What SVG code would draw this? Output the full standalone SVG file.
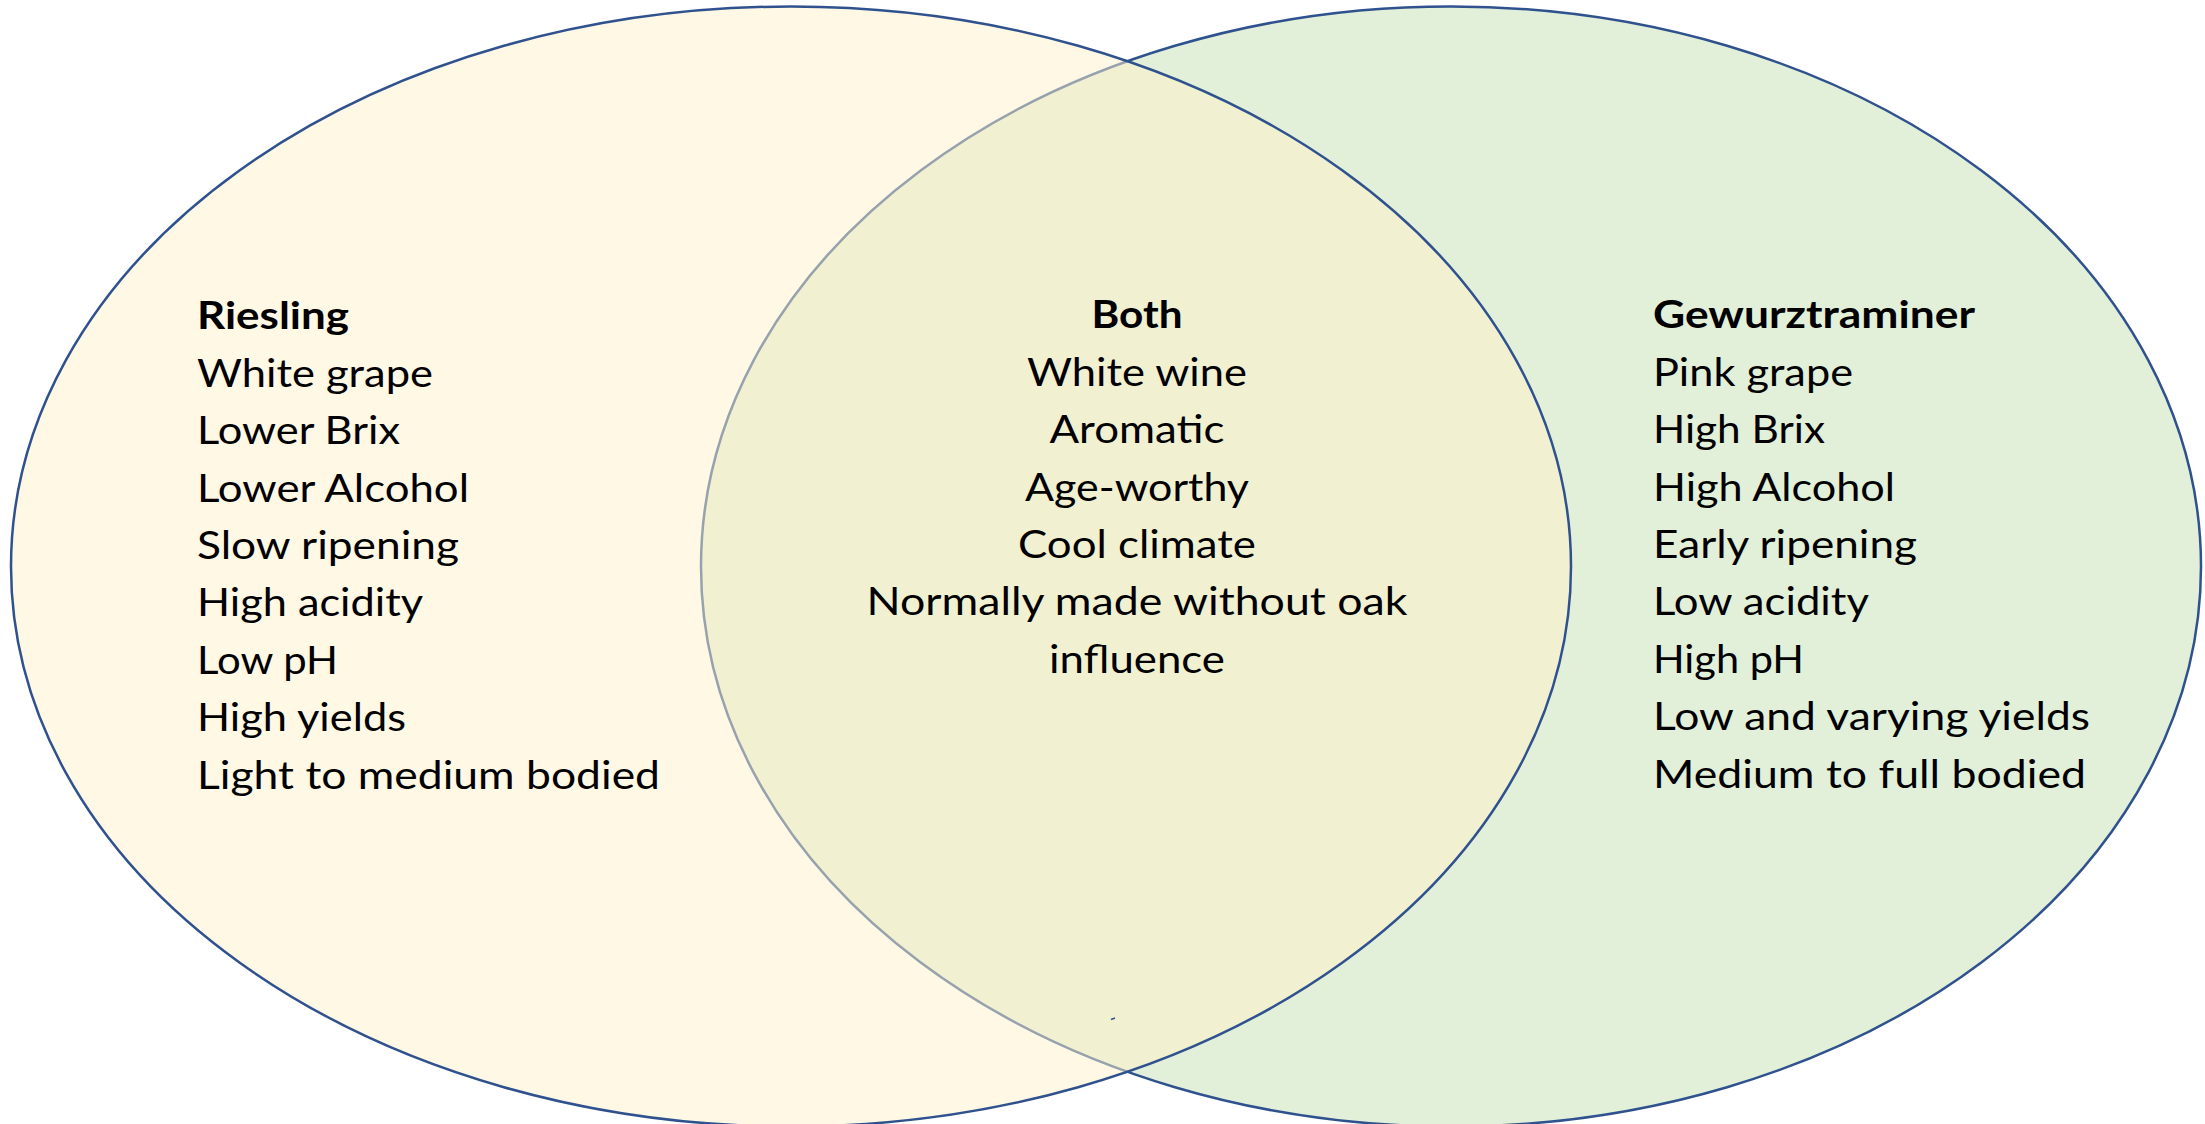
<svg xmlns="http://www.w3.org/2000/svg" width="2205" height="1124" viewBox="0 0 2205 1124">
<style>
.t{font-family:Lato,"Open Sans","Liberation Sans",sans-serif;font-size:38px;fill:#000}
.b{font-weight:bold}
.c{text-anchor:middle}
.e{stroke:#2F528F;stroke-width:2.5}
</style>
<rect width="2205" height="1124" fill="#FFFFFF"/>
<g id="gewurztraminer-circle">
<ellipse class="e" cx="1451" cy="566.5" rx="750" ry="560" fill="#E2F0D9"/>
</g>
<g id="riesling-circle">
<ellipse class="e" cx="791" cy="566.5" rx="780" ry="560" fill="#FFF2CC" fill-opacity="0.5"/>
</g>
<g id="connectors"></g>
<path d="M1111 1019.5 L1115 1018" stroke="#2F528F" stroke-width="1.5" fill="none"/>
<g id="riesling">
<text class="t b" x="197" y="329" textLength="152" lengthAdjust="spacingAndGlyphs">Riesling</text>
<text class="t" x="197" y="387" textLength="236" lengthAdjust="spacingAndGlyphs">White grape</text>
<text class="t" x="197" y="444" textLength="203" lengthAdjust="spacingAndGlyphs">Lower Brix</text>
<text class="t" x="197" y="502" textLength="272" lengthAdjust="spacingAndGlyphs">Lower Alcohol</text>
<text class="t" x="197" y="559" textLength="262" lengthAdjust="spacingAndGlyphs">Slow ripening</text>
<text class="t" x="197" y="616" textLength="226" lengthAdjust="spacingAndGlyphs">High acidity</text>
<text class="t" x="197" y="674" textLength="141" lengthAdjust="spacingAndGlyphs">Low pH</text>
<text class="t" x="197" y="731" textLength="209" lengthAdjust="spacingAndGlyphs">High yields</text>
<text class="t" x="197" y="789" textLength="463" lengthAdjust="spacingAndGlyphs">Light to medium bodied</text>
</g>
<g id="both">
<text class="t b c" x="1137" y="328" textLength="91" lengthAdjust="spacingAndGlyphs">Both</text>
<text class="t c" x="1137" y="386" textLength="220" lengthAdjust="spacingAndGlyphs">White wine</text>
<text class="t c" x="1137" y="443" textLength="175" lengthAdjust="spacingAndGlyphs">Aromatic</text>
<text class="t c" x="1137" y="501" textLength="224" lengthAdjust="spacingAndGlyphs">Age-worthy</text>
<text class="t c" x="1137" y="558" textLength="238" lengthAdjust="spacingAndGlyphs">Cool climate</text>
<text class="t c" x="1137" y="615" textLength="541" lengthAdjust="spacingAndGlyphs">Normally made without oak</text>
<text class="t c" x="1137" y="673" textLength="176" lengthAdjust="spacingAndGlyphs">influence</text>
</g>
<g id="gewurztraminer">
<text class="t b" x="1653" y="328" textLength="322" lengthAdjust="spacingAndGlyphs">Gewurztraminer</text>
<text class="t" x="1653" y="386" textLength="200" lengthAdjust="spacingAndGlyphs">Pink grape</text>
<text class="t" x="1653" y="443" textLength="172" lengthAdjust="spacingAndGlyphs">High Brix</text>
<text class="t" x="1653" y="501" textLength="242" lengthAdjust="spacingAndGlyphs">High Alcohol</text>
<text class="t" x="1653" y="558" textLength="264" lengthAdjust="spacingAndGlyphs">Early ripening</text>
<text class="t" x="1653" y="615" textLength="216" lengthAdjust="spacingAndGlyphs">Low acidity</text>
<text class="t" x="1653" y="673" textLength="151" lengthAdjust="spacingAndGlyphs">High pH</text>
<text class="t" x="1653" y="730" textLength="437" lengthAdjust="spacingAndGlyphs">Low and varying yields</text>
<text class="t" x="1653" y="788" textLength="433" lengthAdjust="spacingAndGlyphs">Medium to full bodied</text>
</g>
</svg>
